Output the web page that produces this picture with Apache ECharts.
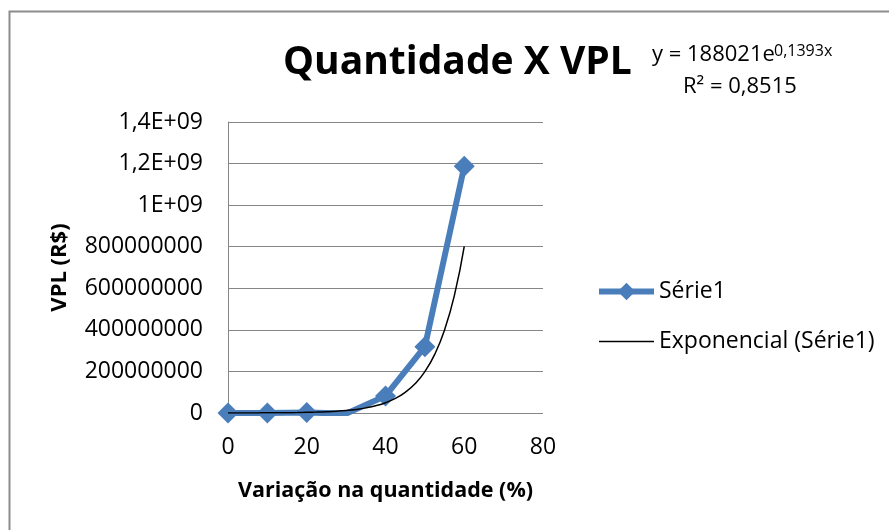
<!DOCTYPE html>
<html>
<head>
<meta charset="utf-8">
<script src="https://cdn.jsdelivr.net/npm/echarts@6/dist/echarts.min.js"></script>
<style>
html,body{margin:0;padding:0;background:#fff;}
#chart{width:889px;height:530px;}
</style>
</head>
<body>
<div id="chart"></div>
<script>
// Data
var serieX = [0, 10, 20, 30, 40, 50, 60];
var serieY = [0, 0, 2000000, -3000000, 82000000, 319000000, 1187000000];
// Exponential trendline (y = 188021e^0,1393x) values
var trendX = [0, 2.5, 5, 7.5, 10, 12.5, 15, 17.5, 20, 22.5, 25, 27.5, 30, 32.5, 35, 37.5, 40, 42.5, 45, 47.5, 50, 52.5, 55, 57.5, 60];
var trendY = [188021, 266350, 377300, 534500, 757200, 1072600, 1519000, 2152000, 3050000, 4320000, 6120000, 8670000, 12280000, 17400000, 24640000, 34910000, 49400000, 70000000, 99200000, 140500000, 199100000, 282000000, 399500000, 565900000, 801700000];
var yTickLabels = ["0", "200000000", "400000000", "600000000", "800000000", "1E+09", "1,2E+09", "1,4E+09"];
var xTickLabels = ["0", "20", "40", "60", "80"];

var FONT = "'Open Sans', 'Liberation Sans', sans-serif";
var chart = echarts.init(document.getElementById('chart'));

function zip(a, b) { return a.map(function (v, i) { return [v, b[i]]; }); }

chart.setOption({
  animation: false,
  backgroundColor: '#fff',
  graphic: [
    { type: 'rect', left: 7, top: 9, shape: { width: 900, height: 600 }, style: { fill: 'none', stroke: '#8c8c8c', lineWidth: 2 }, z: 0 },
    { type: 'text', left: 283, top: 43, style: { text: 'Quantidade X VPL', font: "bold 39px " + FONT, fill: '#000' } },
    { type: 'text', left: 652, top: 44, style: { text: 'y = 188021e', font: "22px " + FONT, fill: '#000' } },
    { type: 'text', left: 774, top: 43, style: { text: '0,1393x', font: "16px " + FONT, fill: '#000' } },
    { type: 'text', left: 683, top: 76, style: { text: 'R² = 0,8515', font: "22px " + FONT, fill: '#000' } }
  ],
  legend: {
    orient: 'vertical',
    left: 596,
    top: 280,
    padding: 0,
    itemGap: 27,
    itemWidth: 55,
    itemHeight: 22,
    textStyle: { fontFamily: FONT, fontSize: 23, color: '#000' },
    data: [
      { name: 'Série1', lineStyle: { width: 6 } },
      { name: 'Exponencial (Série1)', itemStyle: { opacity: 0 }, lineStyle: { width: 1.5 } }
    ]
  },
  grid: { left: 228, right: 346, top: 122, bottom: 117, containLabel: false },
  xAxis: {
    type: 'value',
    min: 0, max: 80, interval: 20,
    name: 'Variação na quantidade (%)',
    nameLocation: 'middle',
    nameGap: 67,
    nameTextStyle: { fontFamily: FONT, fontWeight: 'bold', fontSize: 21.5, color: '#000' },
    axisLine: { show: false },
    axisTick: { show: false },
    splitLine: { show: false },
    axisLabel: { fontFamily: FONT, fontSize: 23, color: '#000', margin: 23, formatter: function (v) { return xTickLabels[Math.round(v / 20)]; } }
  },
  yAxis: {
    type: 'value',
    min: 0, max: 1400000000, interval: 200000000,
    name: 'VPL (R$)',
    nameLocation: 'middle',
    nameRotate: 90,
    nameGap: 157,
    nameTextStyle: { fontFamily: FONT, fontWeight: 'bold', fontSize: 22, color: '#000' },
    axisLine: { show: true, lineStyle: { color: '#868686', width: 1 } },
    axisTick: { show: false },
    splitLine: { show: true, lineStyle: { color: '#868686', width: 1 } },
    axisLabel: { fontFamily: FONT, fontSize: 23, color: '#000', margin: 25, formatter: function (v) { return yTickLabels[Math.round(v / 200000000)]; } }
  },
  series: [
    {
      name: 'Série1',
      type: 'line',
      data: zip(serieX, serieY),
      symbol: 'diamond',
      symbolSize: 21,
      lineStyle: { color: '#4a7ebb', width: 6 },
      itemStyle: { color: '#4a7ebb' },
      z: 3
    },
    {
      name: 'Exponencial (Série1)',
      type: 'line',
      data: zip(trendX, trendY),
      symbol: 'none',
      smooth: true,
      lineStyle: { color: '#000', width: 1.5 },
      itemStyle: { color: '#000' },
      z: 4
    }
  ]
});
</script>
</body>
</html>
